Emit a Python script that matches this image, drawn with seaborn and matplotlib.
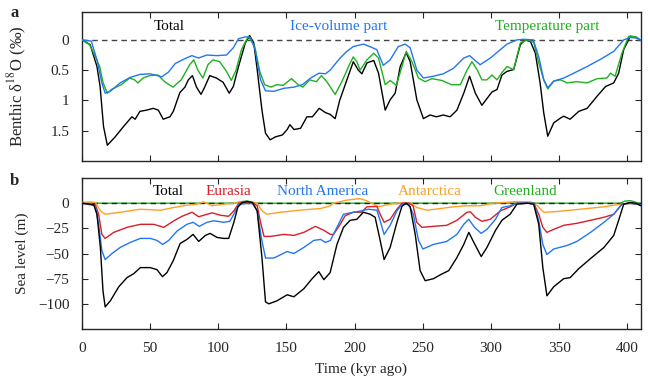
import matplotlib
matplotlib.use('Agg')
import matplotlib.pyplot as plt
import seaborn as sns
import numpy as np

sns.set_style('ticks')
plt.rcParams['font.family'] = ['Liberation Serif', 'DejaVu Serif']
plt.rcParams['mathtext.fontset'] = 'stix'
plt.rcParams['font.size'] = 11

# ---------------- panel a: benthic d18O (permil) ----------------
t_d18o_total = [0, 6, 11, 13.3, 15.8, 18.6, 24.4, 30.5, 36.6, 39, 42.5, 47.4, 52.3, 56, 59.6, 64.5, 67, 71.8,
                75.5, 78, 81, 84, 87.3, 90, 93.7, 98.6, 103.5, 108, 111, 114.8, 119.8, 123, 126, 128.5, 132,
                134.6, 138, 142, 147, 150.5, 152.5, 155.5, 160.3, 165, 169, 174, 178.5, 182, 185.7, 189, 194.3,
                199, 202.7, 205.3, 209, 214, 217.5, 222.4, 226, 229.7, 233.4, 237.8, 240.7, 245.6, 250.4, 255.3,
                260, 265, 270, 275, 280, 284.3, 288.5, 293.3, 297, 300.7, 304.4, 308, 311.7, 316.6, 321.5, 325,
                329, 332.5, 336, 338.7, 341.6, 346, 351, 353.3, 358, 364.4, 370.5, 377.8, 384, 390, 393.6, 397.3,
                402.2, 406, 410]
d18o_total = [0, 0.08, 0.44, 0.77, 1.43, 1.74, 1.6, 1.43, 1.27, 1.31, 1.18, 1.16, 1.13, 1.16, 1.31, 1.27, 1.18, 0.87,
              0.78, 0.66, 0.59, 0.78, 0.90, 0.78, 0.59, 0.63, 0.70, 0.88, 0.77, 0.44, 0.05, -0.07, 0.05, 0.49, 1.16,
              1.54, 1.65, 1.6, 1.57, 1.48, 1.4, 1.48, 1.46, 1.27, 1.27, 1.13, 1.2, 1.23, 1.3, 1.0, 0.66,
              0.36, 0.50, 0.56, 0.38, 0.34, 0.55, 1.16, 0.99, 0.88, 0.44, 0.21, 0.36, 0.99, 1.3, 1.24,
              1.27, 1.24, 1.27, 1.16, 0.88, 0.6, 0.88, 1.08, 0.97, 0.86, 0.82, 0.58, 0.52, 0.49, 0.08, 0,
              0.03, 0.22, 0.71, 1.21, 1.59, 1.37, 1.29, 1.26, 1.31, 1.18, 1.13, 0.93, 0.77, 0.71, 0.55, 0.16,
              -0.06, -0.05, 0.01]

t_d18o_ice = [0, 6.8, 11, 14.6, 17, 20.7, 28, 35.3, 42.5, 50, 58.6, 63.5, 68.4, 74.5, 80.6, 85.4, 91.5, 98.8, 106,
              111, 114.8, 119.8, 123.5, 127, 131, 134.6, 140.7, 148, 155.4, 161.6, 167.7, 173.8, 178.6, 182,
              189.3, 194.2, 199, 206.4, 211, 216.2, 221, 226, 232, 237, 240.7, 245.6, 250.4, 257.7, 265, 272.4,
              280, 284.3, 292, 299.5, 306.9, 311.7, 319, 324, 331, 335, 338.7, 341.6, 346, 353.3, 360.7, 370.5,
              380.3, 390, 397.3, 402, 407, 410]
d18o_ice = [0, 0.02, 0.33, 0.71, 0.88, 0.85, 0.71, 0.62, 0.57, 0.56, 0.61, 0.53, 0.39, 0.32, 0.26, 0.30, 0.25, 0.26, 0.25,
            0.13, -0.02, -0.05, -0.04, 0.16, 0.66, 0.84, 0.85, 0.8, 0.78, 0.74, 0.63, 0.55, 0.56, 0.5,
            0.30, 0.19, 0.11, 0.07, 0.11, 0.16, 0.42, 0.33, 0.11, 0.07, 0.13, 0.5, 0.63, 0.6, 0.56, 0.47,
            0.30, 0.26, 0.41, 0.30, 0.16, 0.07, 0, -0.01, 0, 0.28, 0.66, 0.79, 0.68, 0.63, 0.55, 0.44,
            0.32, 0.19, 0, -0.04, -0.03, 0.01]

t_d18o_temp = [0, 5.6, 9.3, 13, 15.5, 18.6, 21.5, 28.8, 35, 38.6, 41, 44.8, 49.6, 55.8, 60.6, 66.7, 72.8, 79, 82, 85,
               88.7, 92.4, 96, 101, 106, 109.5, 113, 117, 122, 126.7, 130.4, 134, 138.5, 142.7, 147.6, 153.7,
               158.6, 162, 167, 172, 175.6, 179.6, 185.7, 190.6, 195.5, 199, 201.6, 204, 209, 214, 217.5, 222.4,
               226, 230.5, 234.7, 237.8, 242, 246.8, 251.7, 256.6, 264, 271, 277.5, 282.4, 286, 290, 293.3, 297,
               300.7, 304.4, 308, 311.7, 316.6, 321.5, 326.4, 331.3, 335, 338.7, 341.6, 346, 351, 355.8, 363,
               370.5, 377.8, 385, 387.6, 391, 396, 401, 406, 410]
d18o_temp = [0, 0.08, 0.25, 0.44, 0.71, 0.88, 0.82, 0.74, 0.63, 0.66, 0.71, 0.63, 0.59, 0.58, 0.69, 0.78, 0.66, 0.41, 0.33, 0.5,
             0.63, 0.41, 0.33, 0.36, 0.52, 0.67, 0.5, 0.16, -0.06, 0.11, 0.52, 0.74, 0.78, 0.74, 0.75, 0.64,
             0.74, 0.78, 0.66, 0.69, 0.59, 0.69, 0.9, 0.69, 0.44, 0.28, 0.36, 0.5, 0.33, 0.22, 0.3, 0.74,
             0.67, 0.75, 0.44, 0.19, 0.36, 0.63, 0.69, 0.64, 0.67, 0.74, 0.74, 0.5, 0.36, 0.5, 0.66, 0.66,
             0.58, 0.66, 0.54, 0.44, 0.49, 0.05, 0, 0.04, 0.38, 0.66, 0.81, 0.68, 0.66, 0.71, 0.69,
             0.71, 0.64, 0.63, 0.55, 0.6, 0.22, -0.06, -0.05, 0.01]

# ---------------- panel b: sea level (m) ----------------
t_sl_total = [0, 8.6, 11, 13.5, 15.4, 17, 20.8, 27, 33, 38, 42.8, 50, 55, 59, 62.3, 67, 72, 77, 81.5, 85.6, 90.5, 94,
              99, 104, 107.6, 111.4, 114.3, 117.5, 121, 125, 128.5, 132, 134.6, 137, 143, 150.5, 155.4, 162.7,
              168.8, 173.7, 177.4, 182, 187, 191.8, 196.7, 201.6, 206.4, 211.4, 215, 218.7, 221.6, 226, 231,
              234.7, 237.8, 240.7, 244.4, 248, 251.7, 257.8, 263, 269, 275, 280, 283.7, 287.4, 292.8, 297,
              303.3, 308, 314, 319, 326.4, 331.3, 335, 338, 341, 346, 353.3, 358, 364.4, 373, 382.8, 390,
              393.6, 397.3, 402, 406, 410]
sl_total = [0, -1.6, -11, -44, -87, -103, -97, -83, -74, -70, -64, -64, -66, -73, -69, -57, -40, -36, -31, -38, -32, -30,
            -34, -35, -35, -19, -4, 0.7, 1.6, 0.7, -7.6, -54, -98, -100, -97, -91, -93, -85,
            -75, -68, -76, -69, -41, -24, -17, -16, -9, -11, -14, -37, -56, -44, -19,
            -3, 0, -3.6, -31, -67, -77, -75, -71, -67, -54, -41, -29, -39, -53, -44,
            -27, -17, -11, -1, 0, -1, -21, -64, -92, -83, -75, -74, -65, -55, -44, -32,
            -17, -1, 0.7, 0, -2.6]

t_sl_eur = [0, 9.8, 12.2, 14.6, 17, 23.3, 33, 42.8, 52.6, 60, 67.4, 73.4, 80.8, 85.6, 91.7, 95.5, 101.6, 107.6, 111.4,
            115, 125, 128.5, 131, 133.5, 138.4, 148, 155.4, 162.7, 171.2, 177.4, 182.2, 184.5, 189.4, 193, 199,
            205, 209, 216.3, 218.7, 221.6, 226, 231, 234.7, 239.6, 242.8, 245.6, 249.3, 257.7, 267.5, 275,
            282.4, 284.9, 288.5, 293.3, 299.5, 306.9, 314, 319, 331.3, 335, 338, 341, 346, 353.3, 363, 373,
            382.8, 390, 396, 402, 410]
sl_eur = [0, -1.6, -11, -31, -35, -29, -24, -21, -21, -24, -17.5, -13, -9, -13.5, -11, -9.6, -12, -13, -7.6,
          0, 0.7, -2.6, -19, -33, -33, -31, -32, -29, -23, -27, -31, -31, -21, -12.5, -9,
          -9, -3.6, -3.3, -11, -19, -16, -6, 0, 0, -2.6, -19, -24, -23, -22, -17,
          -9, -8.6, -14, -18, -16, -7.6, -3.6, 0, 0, -11, -24, -29, -26, -22, -20, -17,
          -14, -11, -1, 0, -1.6]

t_sl_nam = [0, 9.8, 12.2, 14.6, 17, 22, 28, 35.4, 42.8, 50.2, 55, 59.2, 63.6, 69.7, 77, 81.5, 86, 91.7, 96.7, 104,
            108.4, 111.4, 115, 125, 128.5, 131.5, 134.6, 140.7, 150.5, 155.4, 162.7, 170, 175, 178.5, 182.2,
            187, 191.8, 199, 205, 210, 216.3, 218.7, 221.6, 226, 231, 234.7, 239.6, 243, 246.8, 250, 257.7,
            267.5, 275, 280, 283.7, 287.9, 292.8, 297, 303.3, 308, 314, 319, 331.3, 335, 338, 341, 346, 355.8,
            363, 373, 382.8, 390, 396, 402, 410]
sl_nam = [0, -2.6, -21, -47, -56, -50, -44, -39, -35, -35, -37, -41, -37, -27.7, -21, -19, -23, -19, -17.5, -19,
          -18, -11, -1, 0, -7.6, -34, -54.5, -54.5, -48, -50, -44, -37, -36, -39, -37,
          -24, -11, -9, -7.6, -6, -7, -17.5, -31, -22, -7.6, -1, -1, -11, -37, -45.5, -41,
          -38, -31, -21, -16, -24, -30, -26, -16, -4.3, -2.6, 0, 0, -17.5, -41, -51, -45.5, -42,
          -38, -29, -19, -11, -1, 0, -1.6]

t_sl_ant = [0, 5.6, 9.8, 13.5, 17, 28, 42.8, 57.5, 67.4, 77, 84.4, 89.3, 95.5, 104, 111.4, 121, 128.5, 132, 135.8,
            145.6, 155.4, 162.7, 175, 182, 184.5, 194.2, 204, 209, 217.5, 223.6, 231, 240.7, 245.6, 253, 263,
            272.4, 282.4, 292, 302, 319, 329, 334, 338.7, 346, 358, 370.5, 382.8, 395, 402, 410]
sl_ant = [0.7, 1.3, 0.7, -7.6, -11, -9, -6, -7, -4.3, -2, -1, 1.3, -2.6, -1, 0, 1.3, 0, -7.6, -11,
          -9, -7.6, -6.6, -5.3, -2.6, 0, 3, 4.6, 2.3, -3.6, -1.6, 0, 0, -4.3, -7, -5.3,
          -3.6, -2.6, -2.6, 0, 1.6, 1.3, -2.6, -9, -8.6, -7, -5.3, -3.6, -1, 0, -1.6]

t_sl_grl = [0, 112, 117, 121, 125, 128, 395, 398, 402, 405, 408, 410]
sl_grl = [0, 0, 1.5, 2.3, 1, 0, 0, 2, 2.5, 1.5, 0, 0]

c_black = 'black'
c_blue = '#2277f0'
c_green = '#20b020'
c_red = '#d81e28'
c_orange = '#ffa020'

fig = plt.figure(figsize=(6.48, 3.82), dpi=100)
ax1 = fig.add_axes([0.1265, 0.5785, 0.8627, 0.390])
ax2 = fig.add_axes([0.1265, 0.1387, 0.8627, 0.3953])

lw = 1.0
# panel a
ax1.axhline(0, color='#444444', ls='--', lw=1.0, dashes=(4, 3), zorder=1)
sns.lineplot(x=t_d18o_total, y=d18o_total, ax=ax1, color=c_black, lw=lw, zorder=3)
sns.lineplot(x=t_d18o_temp, y=d18o_temp, ax=ax1, color=c_green, lw=lw, zorder=4)
sns.lineplot(x=t_d18o_ice, y=d18o_ice, ax=ax1, color=c_blue, lw=lw, zorder=5)

ax1.set_xlim(0, 410)
ax1.set_ylim(2.0, -0.46)
ax1.set_yticks([0, 0.5, 1, 1.5])
ax1.set_yticklabels(['0', '0.5', '1', '1.5'])
ax1.set_xticks(range(0, 401, 50))
ax1.set_xticklabels([])
ax1.set_ylabel('Benthic δ$^{18}$O (‰)', fontsize=12)
ax1.yaxis.set_label_coords(-0.095, 0.5)

ax1.text(0.156, 0.905, 'Total', color=c_black, transform=ax1.transAxes, ha='center', va='center')
ax1.text(0.459, 0.905, 'Ice-volume part', color=c_blue, transform=ax1.transAxes, ha='center', va='center')
ax1.text(0.833, 0.905, 'Temperature part', color=c_green, transform=ax1.transAxes, ha='center', va='center')

# panel b
sns.lineplot(x=t_sl_grl, y=sl_grl, ax=ax2, color=c_green, lw=lw, zorder=2)
ax2.axhline(0, color='#222222', ls='--', lw=1.0, dashes=(4, 3), zorder=3)
sns.lineplot(x=t_sl_ant, y=sl_ant, ax=ax2, color=c_orange, lw=lw, zorder=4)
sns.lineplot(x=t_sl_eur, y=sl_eur, ax=ax2, color=c_red, lw=lw, zorder=5)
sns.lineplot(x=t_sl_nam, y=sl_nam, ax=ax2, color=c_blue, lw=lw, zorder=6)
sns.lineplot(x=t_sl_total, y=sl_total, ax=ax2, color=c_black, lw=lw, zorder=7)

ax2.set_xlim(0, 410)
ax2.set_ylim(-125, 25)
ax2.set_yticks([0, -25, -50, -75, -100])
ax2.set_xticks(range(0, 401, 50))
ax2.set_xlabel('Time (kyr ago)', labelpad=6)
ax2.set_ylabel('Sea level (m)')
ax2.yaxis.set_label_coords(-0.095, 0.5)

ax2.text(0.154, 0.912, 'Total', color=c_black, transform=ax2.transAxes, ha='center', va='center')
ax2.text(0.262, 0.912, 'Eurasia', color=c_red, transform=ax2.transAxes, ha='center', va='center')
ax2.text(0.430, 0.912, 'North America', color=c_blue, transform=ax2.transAxes, ha='center', va='center')
ax2.text(0.623, 0.912, 'Antarctica', color=c_orange, transform=ax2.transAxes, ha='center', va='center')
ax2.text(0.792, 0.912, 'Greenland', color=c_green, transform=ax2.transAxes, ha='center', va='center')

for ax in (ax1, ax2):
    ax.tick_params(direction='in', top=True, right=True, length=4, width=0.8, labelsize=11)
    ax.tick_params(axis='both', which='major', pad=9)
    for s in ax.spines.values():
        s.set_linewidth(1.0)
        s.set_visible(True)

fig.text(0.023, 0.966, 'a', fontweight='bold', fontsize=12, ha='center', va='center')
fig.text(0.023, 0.526, 'b', fontweight='bold', fontsize=12, ha='center', va='center')

fig.savefig('out.png', dpi=100, facecolor='white')
